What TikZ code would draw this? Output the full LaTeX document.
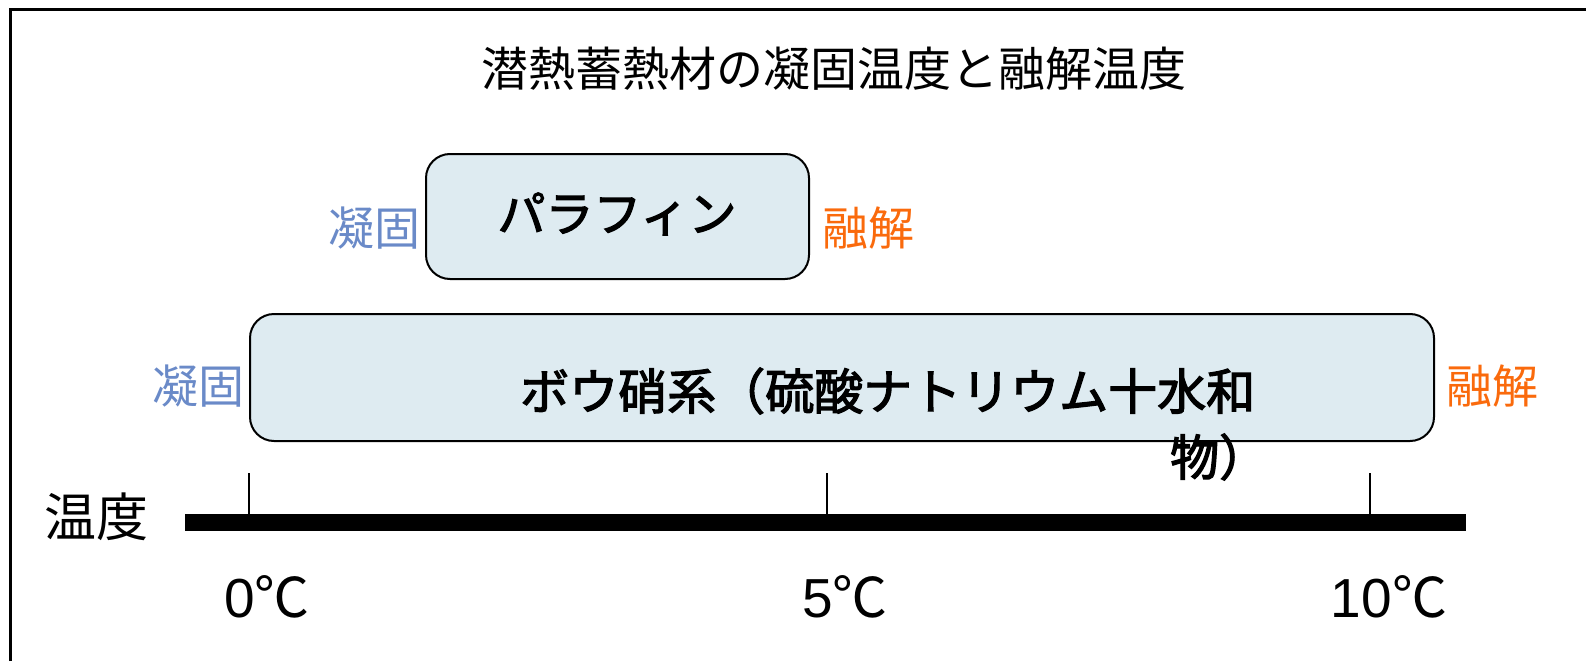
\documentclass[tikz,border=0pt]{standalone}
\usepackage{fontspec}
\setmainfont{Noto Sans CJK JP}
\newfontfamily\cjkheavy[FakeBold=2.5]{Noto Sans CJK JP}
\newfontfamily\latinf{Liberation Sans}
\definecolor{boxfill}{RGB}{222,235,241}
\definecolor{solidblue}{RGB}{106,138,200}
\definecolor{meltorange}{RGB}{250,106,12}
\begin{document}
\begin{tikzpicture}[x=1pt,y=-1pt,
  matbox/.style={draw=black, line width=2pt, fill=boxfill, rounded corners=24pt, inner sep=0pt},
  txt/.style={inner sep=0pt, font=\fontsize{#1}{#1}\selectfont},
  boxtxt/.style={inner sep=0pt, font=\cjkheavy\fontsize{#1}{#1}\selectfont},
  sol/.style={txt=46, text=solidblue},
  mel/.style={txt=46, text=meltorange},
  temp/.style={inner sep=0pt, anchor=base, font=\fontsize{55}{55}\selectfont}
]
\useasboundingbox (0,0) rectangle (1586,661);
% frame
\draw[line width=3pt] (10,661) -- (10,10) -- (1586,10);
% title
\node[txt=47] (title) at (834,69) {潜熱蓄熱材の凝固温度と融解温度};
% paraffin
\node[matbox, minimum width=383, minimum height=125] (para) at (617.5,216.5) {};
\node[boxtxt=48] (paratxt) at (617,214) {パラフィン};
\node[sol, anchor=east] (parasol) at (421,228) {凝固};
\node[mel, anchor=west] (paramel) at (822,228) {融解};
% sodium sulfate
\node[matbox, minimum width=1184, minimum height=127] (boro) at (842,377.5) {};
\node[boxtxt=49, anchor=west] (borotxt) at (520,391) {ボウ硝系（硫酸ナトリウム十水和};
\node[boxtxt=49, anchor=west] (borotxt2) at (1170,457) {物）};
\node[sol, anchor=east] (borosol) at (245,386) {凝固};
\node[mel, anchor=west] (boromel) at (1446,386) {融解};
% axis
\node[txt=52] (axislbl) at (96,517) {温度};
\coordinate (axL) at (185,522.5);
\coordinate (axR) at (1466,522.5);
\draw[line width=17pt] (axL) -- (axR);
\coordinate (t0) at (249,473);
\coordinate (t0b) at (249,515);
\coordinate (t5) at (827,473);
\coordinate (t5b) at (827,515);
\coordinate (t10) at (1370,473);
\coordinate (t10b) at (1370,515);
\draw[line width=1.5pt] (t0) -- (t0b);
\draw[line width=1.5pt] (t5) -- (t5b);
\draw[line width=1.5pt] (t10) -- (t10b);
\node[temp] (l0) at (267,617) {{\latinf 0}℃};
\node[temp] (l5) at (845,617) {{\latinf 5}℃};
\node[temp] (l10) at (1389,617) {{\latinf 10}℃};
\end{tikzpicture}
\end{document}
